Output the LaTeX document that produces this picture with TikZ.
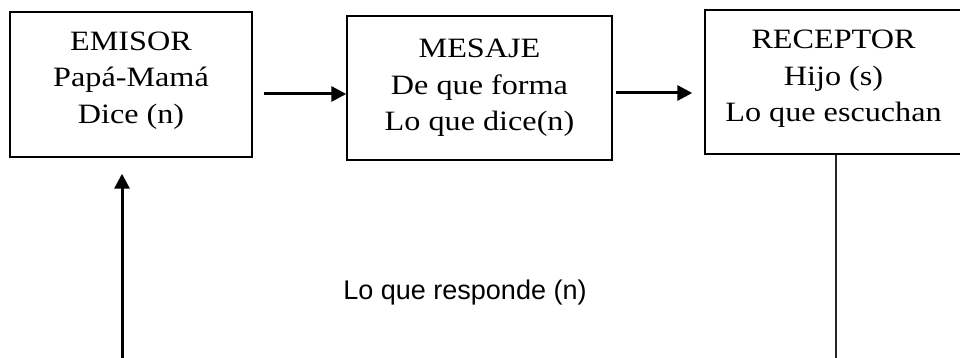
\documentclass[tikz,border=0pt]{standalone}
\usepackage{fontspec}
\newfontfamily\cajafont[FakeStretch=1.15]{Liberation Serif}
\newfontfamily\notafont{Liberation Sans}
\usetikzlibrary{arrows.meta}

\begin{document}
\begin{tikzpicture}[x=1pt, y=-1pt,
			caja/.style={draw, line width=1.4pt, align=center, inner sep=0pt,
				font=\cajafont\fontsize{28}{36.5}\selectfont},
			flecha/.style={line width=3pt, -{Triangle[length=15pt,width=15pt]}},
			linea/.style={line width=1.6pt, black!85},
			respuesta/.style={font=\notafont\fontsize{27}{30}\selectfont}]
			\useasboundingbox (0,0) rectangle (960,358);
			\node[caja, minimum width=242pt, minimum height=145pt, text depth=14pt] (emisor) at (131,84.5)
				{EMISOR\\Papá-Mamá\\Dice (n)};
			\node[caja, minimum width=265pt, minimum height=144pt] (mensaje) at (479.5,88)
				{MESAJE\\De que forma\\Lo que dice(n)};
			\node[caja, minimum width=257pt, minimum height=144pt, text depth=12pt] (receptor) at (833.5,82)
				{RECEPTOR\\Hijo (s)\\Lo que escuchan};
			\node[respuesta] (nota) at (465,293) {Lo que responde (n)};
			\coordinate (base izq) at (122,362);
			\coordinate (base der) at (836,362);
			% flechas
			\draw[flecha] ([xshift=11pt,yshift=-9.5pt]emisor.east) -- ([yshift=-6pt]mensaje.west);
			\draw[flecha] ([xshift=3pt,yshift=-5pt]mensaje.east) -- ([xshift=-12pt,yshift=-11pt]receptor.west);
			\draw[flecha] (base izq) -- ([yshift=-16pt]emisor.south -| base izq);
			\draw[linea] (receptor.south -| base der) -- (base der);
		\end{tikzpicture}
\end{document}
